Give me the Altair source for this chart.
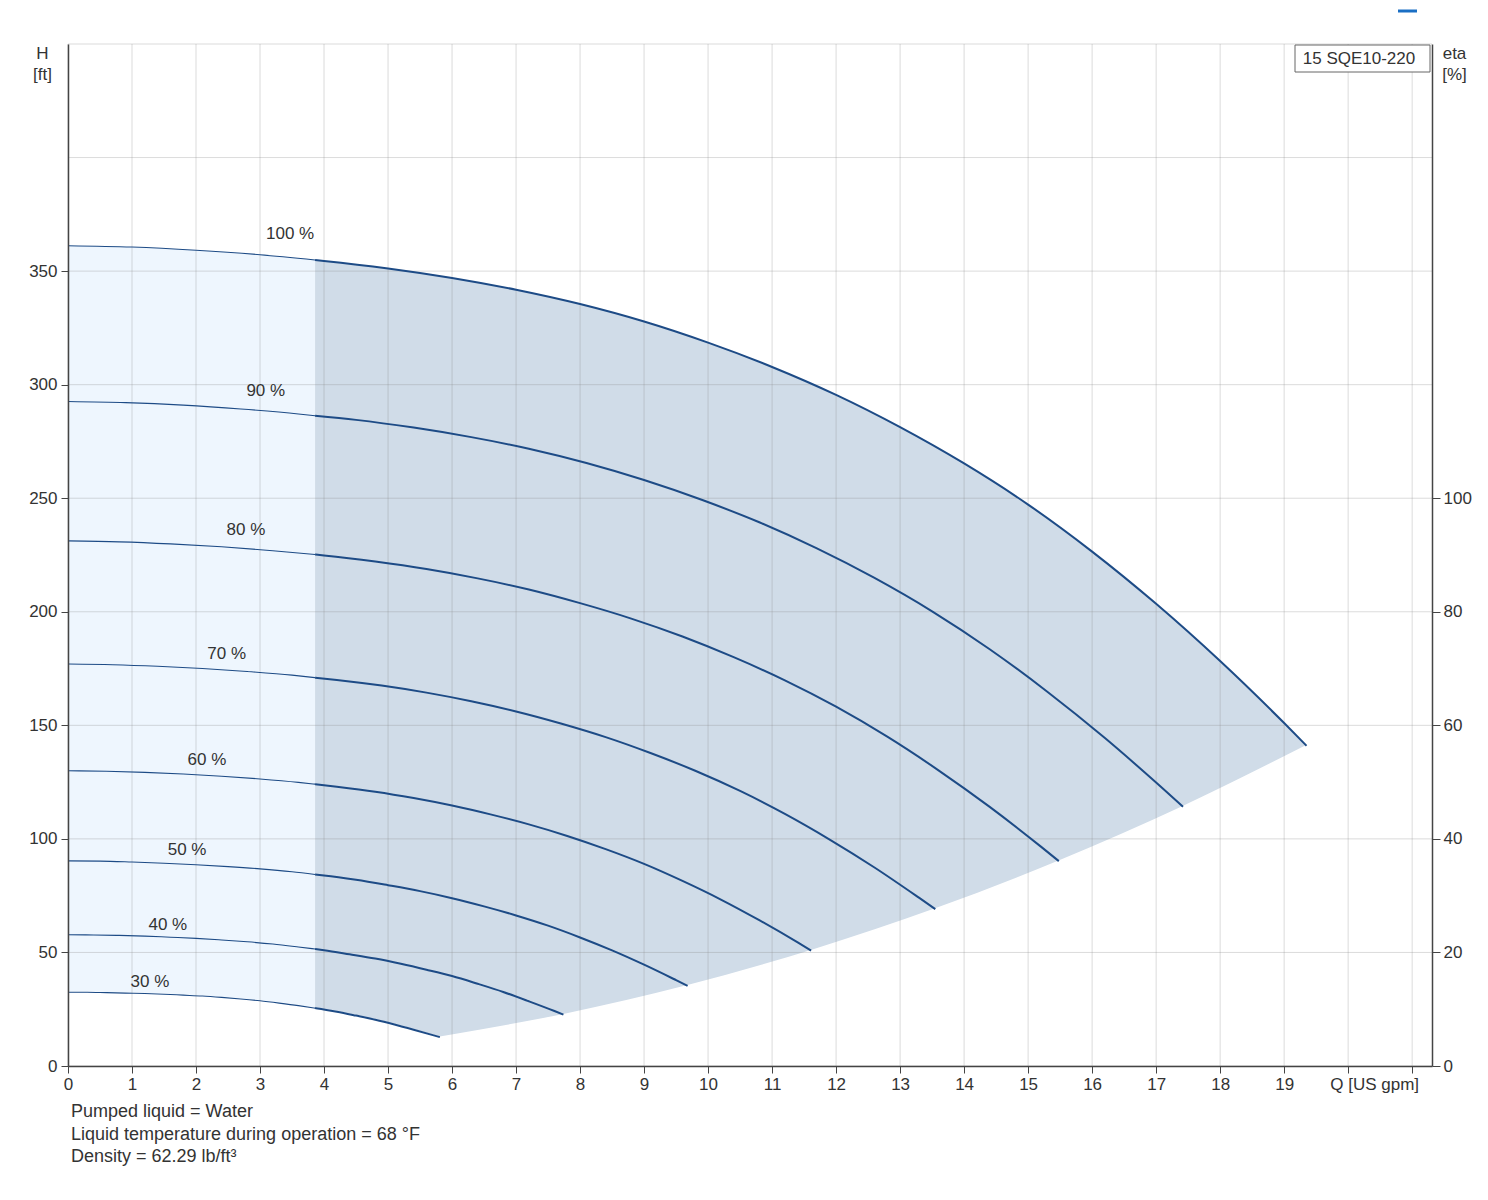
import altair as alt
import pandas as pd

FONT = "Liberation Sans"
TXT = "#333333"
LINE = "#1d4b86"

# ---------------- data ----------------
MIN_FLOW = 3.86          # Q where the light (low-flow) zone ends
X_MAX = 21.31
Y_MAX = 450

speeds = ["100 %", "90 %", "80 %", "70 %", "60 %", "50 %", "40 %", "30 %"]

Q100 = [0, 1, 2, 3, 3.86, 4, 5, 6, 7, 8, 9, 10, 11, 12, 13, 14, 15, 16, 17, 18, 19, 19.35]
H100 = [361.2, 360.6, 359.2, 357.2, 354.9, 354.5, 351.2, 347.0, 341.8, 335.5, 327.8, 318.5,
        307.8, 295.5, 281.3, 265.3, 247.2, 226.5, 203.5, 178.3, 151.0, 141.0]

Q90 = [0, 0.9, 1.8, 2.7, 3.6, 3.86, 4.5, 5.4, 6.3, 7.2, 8.1, 9.0, 9.9, 10.8, 11.7, 12.6,
       13.5, 14.4, 15.3, 16.2, 17.1, 17.42]
H90 = [292.6, 292.1, 291.0, 289.3, 287.1, 286.3, 284.5, 281.1, 276.9, 271.8, 265.5, 258.0,
       249.3, 239.4, 227.9, 214.9, 200.2, 183.5, 164.8, 144.4, 122.3, 114.2]

Q80 = [0, 0.8, 1.6, 2.4, 3.2, 3.86, 4.0, 4.8, 5.6, 6.4, 7.2, 8.0, 8.8, 9.6, 10.4, 11.2,
       12.0, 12.8, 13.6, 14.4, 15.2, 15.48]
H80 = [231.2, 230.8, 229.9, 228.6, 226.9, 225.2, 224.8, 222.1, 218.8, 214.7, 209.8, 203.8,
       197.0, 189.1, 180.0, 169.8, 158.2, 145.0, 130.2, 114.1, 96.6, 90.2]

Q70 = [0, 0.7, 1.4, 2.1, 2.8, 3.5, 3.86, 4.2, 4.9, 5.6, 6.3, 7.0, 7.7, 8.4, 9.1, 9.8,
       10.5, 11.2, 11.9, 12.6, 13.3, 13.55]
H70 = [177.0, 176.7, 176.0, 175.0, 173.7, 172.1, 171.0, 170.0, 167.5, 164.4, 160.6, 156.1,
       150.8, 144.8, 137.8, 130.0, 121.1, 111.0, 99.7, 87.4, 74.0, 69.1]

Q60 = [0, 0.6, 1.2, 1.8, 2.4, 3.0, 3.6, 3.86, 4.2, 4.8, 5.4, 6.0, 6.6, 7.2, 7.8, 8.4,
       9.0, 9.6, 10.2, 10.8, 11.4, 11.61]
H60 = [130.0, 129.8, 129.3, 128.6, 127.6, 126.4, 124.9, 124.1, 123.0, 120.8, 118.0, 114.7,
       110.8, 106.4, 101.3, 95.5, 89.0, 81.5, 73.3, 64.2, 54.4, 50.8]

Q50 = [0, 0.5, 1.0, 1.5, 2.0, 2.5, 3.0, 3.5, 3.86, 4.0, 4.5, 5.0, 5.5, 6.0, 6.5, 7.0,
       7.5, 8.0, 8.5, 9.0, 9.5, 9.68]
H50 = [90.3, 90.2, 89.8, 89.3, 88.6, 87.8, 86.8, 85.5, 84.3, 83.9, 82.0, 79.6, 77.0, 73.9,
       70.3, 66.3, 61.8, 56.6, 50.9, 44.6, 37.8, 35.3]

Q40 = [0, 0.4, 0.8, 1.2, 1.6, 2.0, 2.4, 2.8, 3.2, 3.6, 3.86, 4.0, 4.4, 4.8, 5.2, 5.6,
       6.0, 6.4, 6.8, 7.2, 7.6, 7.74]
H40 = [57.8, 57.7, 57.5, 57.2, 56.7, 56.2, 55.5, 54.7, 53.7, 52.4, 51.5, 51.0, 49.2, 47.3,
       45.0, 42.4, 39.6, 36.2, 32.6, 28.5, 24.2, 22.6]

Q30 = [0, 0.3, 0.6, 0.9, 1.2, 1.5, 1.8, 2.1, 2.4, 2.7, 3.0, 3.3, 3.6, 3.86, 3.9, 4.2,
       4.5, 4.8, 5.1, 5.4, 5.7, 5.81]
H30 = [32.5, 32.5, 32.3, 32.1, 31.9, 31.6, 31.2, 30.8, 30.2, 29.5, 28.7, 27.7, 26.6, 25.5,
       25.3, 23.9, 22.2, 20.4, 18.3, 16.0, 13.6, 12.7]

curve_Q = [Q100, Q90, Q80, Q70, Q60, Q50, Q40, Q30]
curve_H = [H100, H90, H80, H70, H60, H50, H40, H30]

label_Q = [3.47, 3.09, 2.78, 2.48, 2.17, 1.86, 1.56, 1.28]
label_H = [366.2, 297.1, 235.9, 181.3, 134.7, 95.1, 62.1, 37.0]

x_ticks = list(range(0, 22))
h_ticks = [0, 50, 100, 150, 200, 250, 300, 350]
eta_ticks = [0, 20, 40, 60, 80, 100]
grid_x = list(range(0, 22))
grid_y = [0, 50, 100, 150, 200, 250, 300, 350, 400, 450]

notes = ["Pumped liquid = Water",
         "Liquid temperature during operation = 68 \u00b0F",
         "Density = 62.29 lb/ft\u00b3"]
model = "15 SQE10-220"

# ---------------- tables ----------------
rows = []
for name, qs, hs in zip(speeds, curve_Q, curve_H):
    for q, h in zip(qs, hs):
        rows.append({"speed": name, "Q": q, "H": h})
curves = pd.DataFrame(rows)
thin_df = curves[curves.Q <= MIN_FLOW]
thick_df = curves[curves.Q >= MIN_FLOW]

top_df = pd.DataFrame({"Q": Q100, "H": H100})
light_df = top_df[top_df.Q <= MIN_FLOW]
dark_df = top_df[top_df.Q >= MIN_FLOW]

# white masks below the operating range: under the 30 % curve, then under the curve ends
end_Q = [qs[-1] for qs in curve_Q][::-1]
end_H = [hs[-1] for hs in curve_H][::-1]
mask30_df = pd.DataFrame({"Q": Q30, "H": H30})
mask_end_df = pd.DataFrame({"Q": end_Q, "H": end_H})

labels_df = pd.DataFrame({"Q": label_Q, "H": label_H, "t": speeds})
gx_df = pd.DataFrame({"Q": grid_x})
gy_df = pd.DataFrame({"H": grid_y})
eta_df = pd.DataFrame({"eta": eta_ticks})
one = pd.DataFrame({"a": [0]})

# ---------------- scales / axes ----------------
xscale = alt.Scale(domain=[0, X_MAX], nice=False, zero=False)
yscale = alt.Scale(domain=[0, Y_MAX], nice=False)

xaxis = alt.Axis(
    values=x_ticks, title=None, grid=False, zindex=1,
    tickSize=7, tickColor="#444444", domainColor="#444444", domainWidth=1.5,
    labelFont=FONT, labelFontSize=17, labelColor=TXT, labelPadding=3,
    labelOverlap=False, labelFlush=False, labelBound=False,
    labelExpr="datum.value == 20 ? 'Q [US gpm]' : (datum.value == 21 ? '' : datum.label)",
    labelOffset={"condition": {"test": "datum.value == 20", "value": 26}, "value": 0},
)
yaxis = alt.Axis(
    values=h_ticks, title=["H", "[ft]"], grid=False, zindex=1,
    tickSize=7, tickColor="#444444", domainColor="#444444", domainWidth=1.5,
    labelFont=FONT, labelFontSize=17, labelColor=TXT, labelPadding=4,
    labelOverlap=False,
    titleFont=FONT, titleFontSize=17, titleFontWeight="normal", titleColor=TXT,
    titleAngle=0, titleX=-26, titleY=14, titleAlign="center",
    titleBaseline="alphabetic", titleLineHeight=21,
)


def X(f="Q"):
    return alt.X(f"{f}:Q", scale=xscale, axis=xaxis)


def Y(f="H"):
    return alt.Y(f"{f}:Q", scale=yscale, axis=yaxis)


light = alt.Chart(light_df).mark_area(color="#eef6fe", interpolate="monotone").encode(
    x=X(), y=Y())
dark = alt.Chart(dark_df).mark_area(color="#d0dce8", interpolate="monotone").encode(
    x=X(), y=Y())
mask30 = alt.Chart(mask30_df).mark_area(
    color="white", stroke="white", strokeWidth=1.5, interpolate="monotone"
).encode(x=X(), y=Y())
mask_end = alt.Chart(mask_end_df).mark_area(
    color="white", stroke="white", strokeWidth=1.5, interpolate="monotone"
).encode(x=X(), y=Y())

vgrid = alt.Chart(gx_df).mark_rule(color="#888888", opacity=0.3, strokeWidth=1).encode(x=X())
hgrid = alt.Chart(gy_df).mark_rule(color="#888888", opacity=0.3, strokeWidth=1).encode(y=Y())

thin = alt.Chart(thin_df).mark_line(color=LINE, strokeWidth=1.1, interpolate="monotone").encode(
    x=X(), y=Y(), detail="speed:N", order="Q:Q")
thick = alt.Chart(thick_df).mark_line(color=LINE, strokeWidth=2, interpolate="monotone").encode(
    x=X(), y=Y(), detail="speed:N", order="Q:Q")

lbls = alt.Chart(labels_df).mark_text(
    font=FONT, fontSize=17, color=TXT, align="center", baseline="middle"
).encode(x=X(), y=Y(), text="t:N")

box = alt.Chart(one).mark_rect(fill="white", stroke="#666666", strokeWidth=1).encode(
    x=alt.value(1227), x2=alt.value(1362), y=alt.value(1), y2=alt.value(28))
box_txt = alt.Chart(one).mark_text(
    text=model, font=FONT, fontSize=17, color=TXT, align="center", baseline="middle"
).encode(x=alt.value(1291), y=alt.value(14.5))

icon = alt.Chart(one).mark_rule(color="#1a6fc4", strokeWidth=3).encode(
    x=alt.value(1330), x2=alt.value(1349), y=alt.value(-33))

note_layers = []
for i, t in enumerate(notes):
    note_layers.append(
        alt.Chart(one).mark_text(
            text=t, font=FONT, fontSize=18, color=TXT, align="left", baseline="middle"
        ).encode(x=alt.value(3), y=alt.value(1068 + 22.5 * i))
    )

main = alt.layer(light, dark, mask30, mask_end, vgrid, hgrid, thin, thick, lbls,
                 box, box_txt, icon, *note_layers)

eta_layer = alt.Chart(eta_df).mark_point(opacity=0).encode(
    y=alt.Y("eta:Q", scale=alt.Scale(domain=[0, 180], nice=False),
            axis=alt.Axis(
                orient="right", values=eta_ticks, title=["eta", "[%]"], grid=False, zindex=1,
                tickSize=8, tickColor="#444444", domainColor="#444444", domainWidth=1.5,
                labelFont=FONT, labelFontSize=17, labelColor=TXT, labelPadding=3,
                labelOverlap=False,
                titleFont=FONT, titleFontSize=17, titleFontWeight="normal", titleColor=TXT,
                titleAngle=0, titleX=22, titleY=14, titleAlign="center",
                titleBaseline="alphabetic", titleLineHeight=21,
            ))
)

chart = alt.layer(main, eta_layer).resolve_scale(y="independent").properties(
    width=1364, height=1022,
    padding={"left": 60, "top": 36, "right": 48, "bottom": 130},
    autosize=alt.AutoSizeParams(type="none"),
    background="white",
).configure_view(stroke=None)

chart.save("out.html", embed_options={"renderer": "svg", "actions": False})
